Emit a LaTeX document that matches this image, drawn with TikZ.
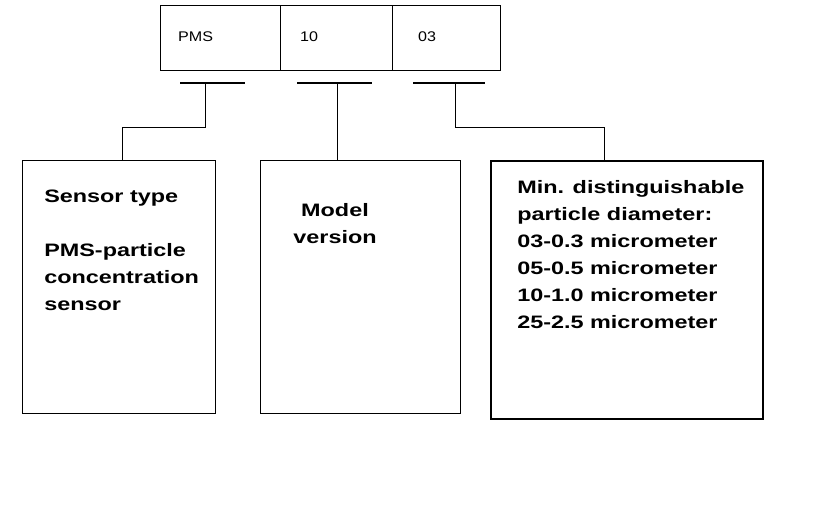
\documentclass[tikz,border=0pt]{standalone}
\usepackage{fontspec}
\setmainfont{Liberation Sans}
\begin{document}
\begin{tikzpicture}[x=1pt,y=-1pt]
    \tikzset{
      cell/.style={draw, line width=1.1pt, minimum height=65pt, anchor=north west, inner sep=0pt},
      field/.style={font=\fontsize{14}{16}\selectfont, anchor=west, xscale=1.15, transform shape},
      info/.style={draw, line width=0.9pt, anchor=north west, inner sep=0pt},
      infotext/.style={font=\bfseries\fontsize{18}{27}\selectfont, align=left, anchor=north west,
        inner sep=0pt, xscale=1.3, transform shape},
      tick/.style={line width=1.1pt}
    }
    \useasboundingbox (0,0) rectangle (831,515);

    % code fields
    \node[cell, minimum width=120pt] (pms) at (160,5) {};
    \node[cell, minimum width=112pt] (ver) at (280,5) {};
    \node[cell, minimum width=108pt] (dia) at (392,5) {};
    \node[field, inner sep=0pt] (tpms) at (178,37) {PMS};
    \node[field, inner sep=0pt] (tver) at (300,37) {10};
    \node[field, inner sep=0pt] (tdia) at (418,37) {03};

    % brackets under the fields
    \coordinate (b1l) at (180,83); \coordinate (b1r) at (245,83); \coordinate (b1) at (205,83);
    \coordinate (b2l) at (297,83); \coordinate (b2r) at (372,83); \coordinate (b2) at (337,83);
    \coordinate (b3l) at (413,83); \coordinate (b3r) at (485,83); \coordinate (b3) at (455,83);
    \draw[tick] (b1l) -- (b1r);
    \draw[tick] (b2l) -- (b2r);
    \draw[tick] (b3l) -- (b3r);

    % description boxes
    \node[info, minimum width=193pt, minimum height=253pt] (type) at (22,160) {};
    \node[info, minimum width=200pt, minimum height=253pt] (model) at (260,160) {};
    \node[info, line width=1.6pt, minimum width=272pt, minimum height=258pt] (size) at (490,160) {};

    \node[infotext] at (44,190) {Sensor type\\[27pt]PMS-particle\\concentration\\sensor};
    \node[infotext, align=center, anchor=north] at (335,203) {Model\\version};
    \node[infotext] at (517,180) {Min. distinguishable\\particle diameter:\\03-0.3 micrometer\\05-0.5 micrometer\\10-1.0 micrometer\\25-2.5 micrometer};

    % connectors
    \draw[line width=0.9pt] (b1) |- (122,127) -- (type.north -| 122,0);
    \draw[line width=0.9pt] (b2) -- (model.north -| b2);
    \draw[line width=0.9pt] (b3) |- (604,127) -- (size.north -| 604,0);
\end{tikzpicture}
\end{document}
